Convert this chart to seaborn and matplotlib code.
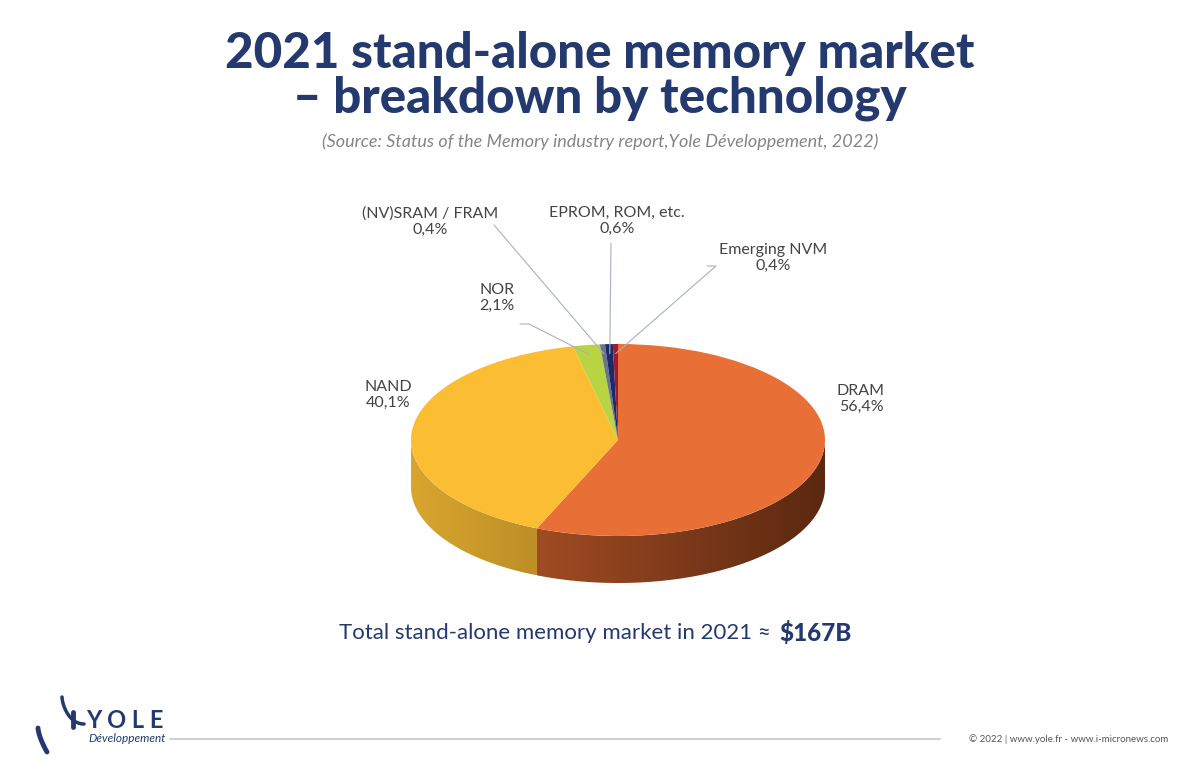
import numpy as np
import matplotlib
matplotlib.use('Agg')
import matplotlib.pyplot as plt
import seaborn as sns
from matplotlib.transforms import Affine2D
from matplotlib.patches import Polygon

# Data (share of 2021 stand-alone memory market, %)
technologies = ['DRAM', 'NAND', 'NOR', '(NV)SRAM / FRAM', 'EPROM, ROM, etc.', 'Emerging NVM']
shares = [56.4, 40.1, 2.1, 0.4, 0.6, 0.4]
share_labels = ['56,4%', '40,1%', '2,1%', '0,4%', '0,6%', '0,4%']
top_colors = ['#E87037', '#FBBE33', '#B9D443', '#6A7487', '#1B2A6B', '#A01C2C']
side_colors = [('#A04B23', '#5A2810'), ('#D8A62E', '#BE8E27'),
               ('#8FA532', '#8FA532'), ('#4A5363', '#4A5363'),
               ('#121D4C', '#121D4C'), ('#70131F', '#70131F')]
total_market = 167  # $B

sns.set_theme(style='white')
plt.rcParams['font.family'] = ['Lato', 'DejaVu Sans']

W, H = 1200, 776
fig = plt.figure(figsize=(12, 7.76), dpi=100)
ax = fig.add_axes([0, 0, 1, 1])

# pie geometry (pixels, y up)
cx, cy = 618, H - 440
rx, ry, depth = 207, 96, 47
squash = Affine2D().translate(-cx, -cy).scale(1, ry / rx).translate(cx, cy)

# side walls of the 3D pie (visible front half only)
fracs = np.array(shares) / sum(shares)
cum = np.concatenate([[0], np.cumsum(fracs)])
for i in range(len(shares)):
    a_hi = 90 - 360 * cum[i]
    a_lo = 90 - 360 * cum[i + 1]
    lo, hi = max(a_lo, -180), min(a_hi, 0)
    if hi <= lo:
        continue
    t = np.radians(np.linspace(lo, hi, 120))
    xs = cx + rx * np.cos(t)
    ys = cy + ry * np.sin(t)
    pts = np.vstack([np.column_stack([xs, ys]),
                     np.column_stack([xs[::-1], ys[::-1] - depth])])
    poly = Polygon(pts, closed=True, facecolor='none', edgecolor='none')
    ax.add_patch(poly)
    c0 = np.array(matplotlib.colors.to_rgb(side_colors[i][0]))
    c1 = np.array(matplotlib.colors.to_rgb(side_colors[i][1]))
    g = np.linspace(0, 1, 256)[:, None]
    grad = (c0 * (1 - g) + c1 * g)[None, :, :]
    im = ax.imshow(grad, extent=(xs.min(), xs.max(), ys.min() - depth, ys.max()),
                   aspect='auto', interpolation='bilinear', zorder=1)
    im.set_clip_path(poly)

# top face
wedges, _ = ax.pie(shares, colors=top_colors, startangle=90, counterclock=False,
                   center=(cx, cy), radius=rx, wedgeprops=dict(linewidth=0))
for w in wedges:
    w.set_transform(squash + ax.transData)
    w.set_zorder(2)

ax.set_aspect('auto')
ax.set_xlim(0, W)
ax.set_ylim(0, H)
ax.axis('off')

# labels
label_pos = [(861, 399), (388, 395), (497, 298), (430, 222), (617, 221), (773, 258)]
lab_kw = dict(ha='center', va='center', fontsize=11.5, color='#444444', linespacing=1.2)
for name, pct, (lx, ly) in zip(technologies, share_labels, label_pos):
    ax.text(lx, H - ly, f'{name}\n{pct}', **lab_kw)

# leader lines for the small slices
lead_starts = {2: [(520, 324), (529, 324)], 3: [(494, 225)], 4: [(611, 243)],
               5: [(707, 266), (716, 266)]}
for i, pts in lead_starts.items():
    mid = np.radians(90 - 360 * (cum[i] + cum[i + 1]) / 2)
    ex = cx + 0.9 * rx * np.cos(mid)
    ey = cy + 0.9 * ry * np.sin(mid)
    xs = [p[0] for p in pts] + [ex]
    ys = [H - p[1] for p in pts] + [ey]
    ax.plot(xs, ys, color='#A9B0C6', lw=0.8, zorder=3)

# titles
navy = '#243A6E'
ax.text(600, H - 53, '2021 stand-alone memory market', ha='center', va='center',
        fontsize=35.5, fontweight='black', color=navy)
ax.text(600, H - 98, '– breakdown by technology', ha='center', va='center',
        fontsize=35.5, fontweight='black', color=navy)
ax.text(600, H - 142, '(Source: Status of the Memory industry report,Yole Développement, 2022)',
        ha='center', va='center', fontsize=13, style='italic',
        color='#858585')

# total
ax.text(771, H - 633, 'Total stand-alone memory market in 2021 ≈', ha='right', va='center',
        fontsize=16, color=navy)
ax.text(779, H - 633, rf'\${total_market}B', ha='left', va='center',
        fontsize=17.5, fontweight='black', color=navy)

# footer
ax.plot([170, 940], [H - 739, H - 739], color='#CFCFD4', lw=1.5)
ax.text(1168, H - 739, '© 2022 | www.yole.fr - www.i-micronews.com', ha='right',
        va='center', fontsize=7, color='#555555')
ax.text(86, H - 720, 'Y O L E', ha='left', va='center', fontsize=17, fontweight='bold',
        color=navy)
ax.text(88, H - 739, 'Développement', ha='left', va='center', fontsize=8.5,
        style='italic', color=navy)
tt = np.linspace(0, 1, 30)
ax.plot(62 + 22 * tt ** 1.6, H - (697 + 27 * np.sin(tt * np.pi / 2)), color=navy, lw=2.5,
        solid_capstyle='round')
ax.plot(38 + 9 * tt ** 1.5, H - (728 + 24 * tt), color=navy, lw=3.5, solid_capstyle='round')
ax.plot([73, 73], [H - 712, H - 727], color=navy, lw=3.5)

fig.savefig('out.png', dpi=100, facecolor='white')
